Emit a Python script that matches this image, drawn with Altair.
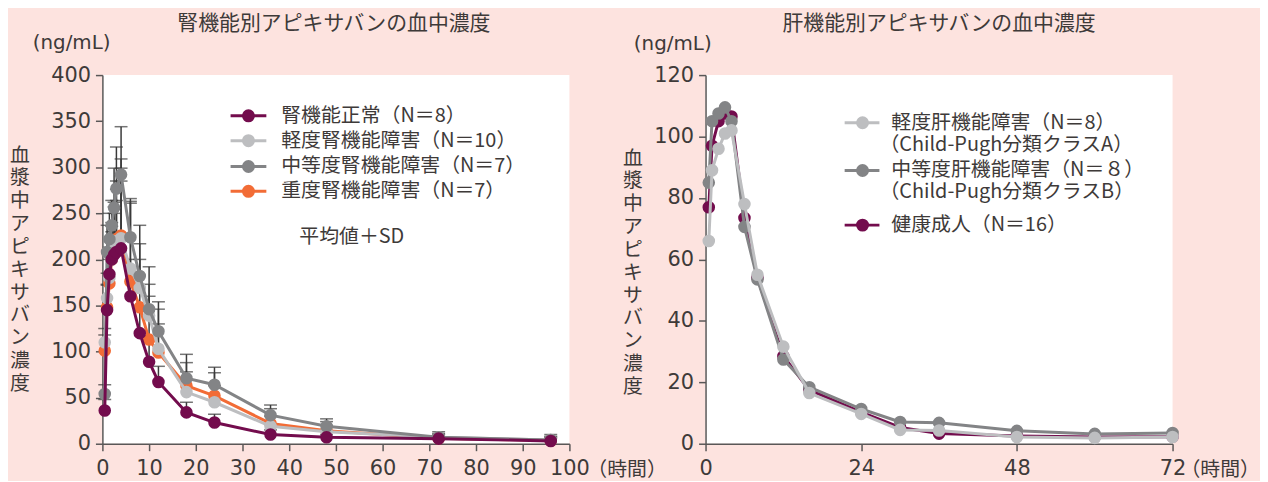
import altair as alt
import pandas as pd

# ---------------- data ----------------
T_RENAL = [0.5, 1, 1.5, 2, 2.5, 3, 4, 6, 8, 10, 12, 18, 24, 36, 48, 72, 96]
RENAL_NAMES = ["腎機能正常（N＝8）", "軽度腎機能障害（N＝10）", "中等度腎機能障害（N＝7）", "重度腎機能障害（N＝7）"]
RENAL_NORMAL = [36, 145, 184, 200, 205, 208, 212, 160, 120, 89, 67, 34, 23, 10, 7, 5.5, 3]
RENAL_NORMAL_TOP = [48, 173, 210, 236, 250, 264, 285, 200, 150, 115, 84, 45, 32, 15, 10, 8, 6]
RENAL_MILD = [110, 158, 180, 200, 215, 220, 223, 190, 169, 139, 103, 56, 45, 19, 13, 7, 4]
RENAL_MILD_TOP = [125, 185, 213, 240, 257, 276, 299, 261, 217, 173, 146, 78, 63, 30, 20, 10, 7]
RENAL_MOD = [54, 208, 222, 237, 256, 277, 292, 224, 182, 146, 122, 71, 64, 31, 19, 7, 4]
RENAL_MOD_TOP = [64, 237, 250, 264, 299, 322, 344, 266, 237, 192, 154, 97, 83, 42, 27, 13, 10]
RENAL_SEV = [101, 148, 174, 200, 215, 222, 226, 176, 148, 113, 99, 63, 52, 22, 14, 6, 3.5]
RENAL_SEV_TOP = [118, 172, 200, 230, 262, 285, 309, 263, 200, 160, 130, 88, 77, 38, 24, 11, 8]

T_HEP = [0.5, 1, 2, 3, 4, 6, 8, 12, 16, 24, 30, 36, 48, 60, 72]
HEP_NAMES = [["軽度肝機能障害（N＝8）", "（Child-Pugh分類クラスA）"],
             ["中等度肝機能障害（N＝８）", "（Child-Pugh分類クラスB）"],
             ["健康成人（N＝16）"]]
HEP_MILD = [66, 89, 96, 101, 102, 78, 55, 31.6, 16.5, 9.7, 4.5, 4.3, 2.2, 1.9, 2.2]
HEP_MOD = [85, 105, 107.5, 109.5, 105, 70.6, 53.5, 27.4, 18.4, 11.3, 7.1, 6.8, 4.2, 3.2, 3.5]
HEP_HEALTHY = [77, 97, 105, 107.5, 106.5, 73.5, 54, 28.5, 17.5, 10.3, 5.3, 3.3, 2.5, 2.2, 2.3]

X_TICKS_R = list(range(0, 101, 10))
Y_TICKS_R = list(range(0, 401, 50))
X_TICKS_H = [0, 24, 48, 72]
Y_TICKS_H = list(range(0, 121, 20))

# ---------------- style ----------------
PURPLE = "#730c4d"
LIGHT = "#bdbec0"
DARK = "#838486"
ORANGE = "#f26c36"
ERR = "#3a3a3a"
TXT = "#3e3a39"
BG = "#fde3df"
JP = "Noto Sans CJK JP"
W, H = 470, 371

one = pd.DataFrame({"a": [0]})


def text(s, x, y, size=20, align="center", baseline="middle", font=JP, **kw):
    return alt.Chart(one).mark_text(text=s, font=font, fontSize=size, color=TXT,
                                    align=align, baseline=baseline, **kw).encode(
        x=alt.value(x), y=alt.value(y))


def panel(t, series, xdom, xticks, ydom, yticks, legend_rows, annotations):
    X = alt.X("t:Q", scale=alt.Scale(domain=xdom, nice=False, zero=False),
              axis=alt.Axis(values=xticks, title=None))
    Y = alt.Y("v:Q", scale=alt.Scale(domain=ydom, nice=False),
              axis=alt.Axis(values=yticks, title=None))
    layers = [alt.Chart(one).mark_rect(opacity=0).encode(
        x=alt.value(-95), x2=alt.value(0), y=alt.value(-66), y2=alt.value(0))]
    # error bars first
    for vals, tops, color in series:
        if tops is None:
            continue
        df = pd.DataFrame({"t": t, "v": vals, "top": tops})
        layers.append(alt.Chart(df).mark_rule(color=ERR, strokeWidth=1.5).encode(
            x=X, y=Y, y2="top:Q"))
        layers.append(alt.Chart(df).mark_tick(orient="horizontal", size=13, thickness=1.5,
                                              color=ERR).encode(x=X, y="top:Q"))
    for vals, tops, color in series:
        df = pd.DataFrame({"t": t, "v": vals})
        layers.append(alt.Chart(df).mark_line(color=color, strokeWidth=3).encode(x=X, y=Y))
        layers.append(alt.Chart(df).mark_circle(color=color, size=160, opacity=1).encode(x=X, y=Y))
    layers += legend_rows + annotations
    return alt.layer(*layers).properties(width=W, height=H)


def legend(items, x1, x2, xc, xt, ys):
    out = []
    for (lines, color), y in zip(items, ys):
        out.append(alt.Chart(one).mark_rule(color=color, strokeWidth=3).encode(
            x=alt.value(x1), x2=alt.value(x2), y=alt.value(y)))
        out.append(alt.Chart(one).mark_circle(color=color, size=170, opacity=1).encode(
            x=alt.value(xc), y=alt.value(y)))
        out.append(text(lines[0], xt, y, align="left"))
        for k, extra in enumerate(lines[1:]):
            out.append(text(extra, xt - 12, y + 22 * (k + 1), align="left"))
    return out


# ---------------- left panel ----------------
left_series = [
    (RENAL_SEV, RENAL_SEV_TOP, ORANGE),
    (RENAL_MILD, RENAL_MILD_TOP, LIGHT),
    (RENAL_MOD, RENAL_MOD_TOP, DARK),
    (RENAL_NORMAL, RENAL_NORMAL_TOP, PURPLE),
]
left_leg = legend([([RENAL_NAMES[0]], PURPLE), ([RENAL_NAMES[1]], LIGHT),
                   ([RENAL_NAMES[2]], DARK), ([RENAL_NAMES[3]], ORANGE)],
                  129, 165, 147, 180, [41, 66, 92, 117])
left_ann = [
    text("腎機能別アピキサバンの血中濃度", 233, -51, size=21),
    text("(ng/mL)", -31, -32, size=20, font="DejaVu Sans"),
    text(list("血漿中アピキサバン濃度"), -83, 71, size=20, baseline="top", lineHeight=23),
    text("平均値＋SD", 251, 163, size=20),
    text("（時間）", 488, 397, size=20, align="left"),
]
left = panel(T_RENAL, left_series, [0, 100], X_TICKS_R, [0, 400], Y_TICKS_R, left_leg, left_ann)

# ---------------- right panel ----------------
right_series = [
    (HEP_HEALTHY, None, PURPLE),
    (HEP_MOD, None, DARK),
    (HEP_MILD, None, LIGHT),
]
right_leg = legend([(HEP_NAMES[0], LIGHT), (HEP_NAMES[1], DARK), (HEP_NAMES[2], PURPLE)],
                   140, 175, 158, 187, [48, 96, 151])
right_ann = [
    text("肝機能別アピキサバンの血中濃度", 235, -51, size=21),
    text("(ng/mL)", -33, -31, size=20, font="DejaVu Sans"),
    text(list("血漿中アピキサバン濃度"), -73, 74, size=20, baseline="top", lineHeight=23),
    text("（時間）", 478, 397, size=20, align="left"),
]
right = panel(T_HEP, right_series, [0, 72], X_TICKS_H, [0, 120], Y_TICKS_H, right_leg, right_ann)

chart = alt.hconcat(left, right, spacing=137, bounds="flush", padding=0).configure(
    background=BG,
).configure_view(fill="white", stroke=None).configure_axis(
    grid=False, domainColor="#595757", domainWidth=1.5, tickColor="#595757", tickWidth=1.5,
    tickSize=7, labelFont="DejaVu Sans", labelFontSize=21, labelColor=TXT, labelPadding=5,
    labelFlush=False, labelOverlap=False,
).configure_axisX(labelPadding=7)

chart.save("out.html", embed_options={"renderer": "svg", "actions": False})
